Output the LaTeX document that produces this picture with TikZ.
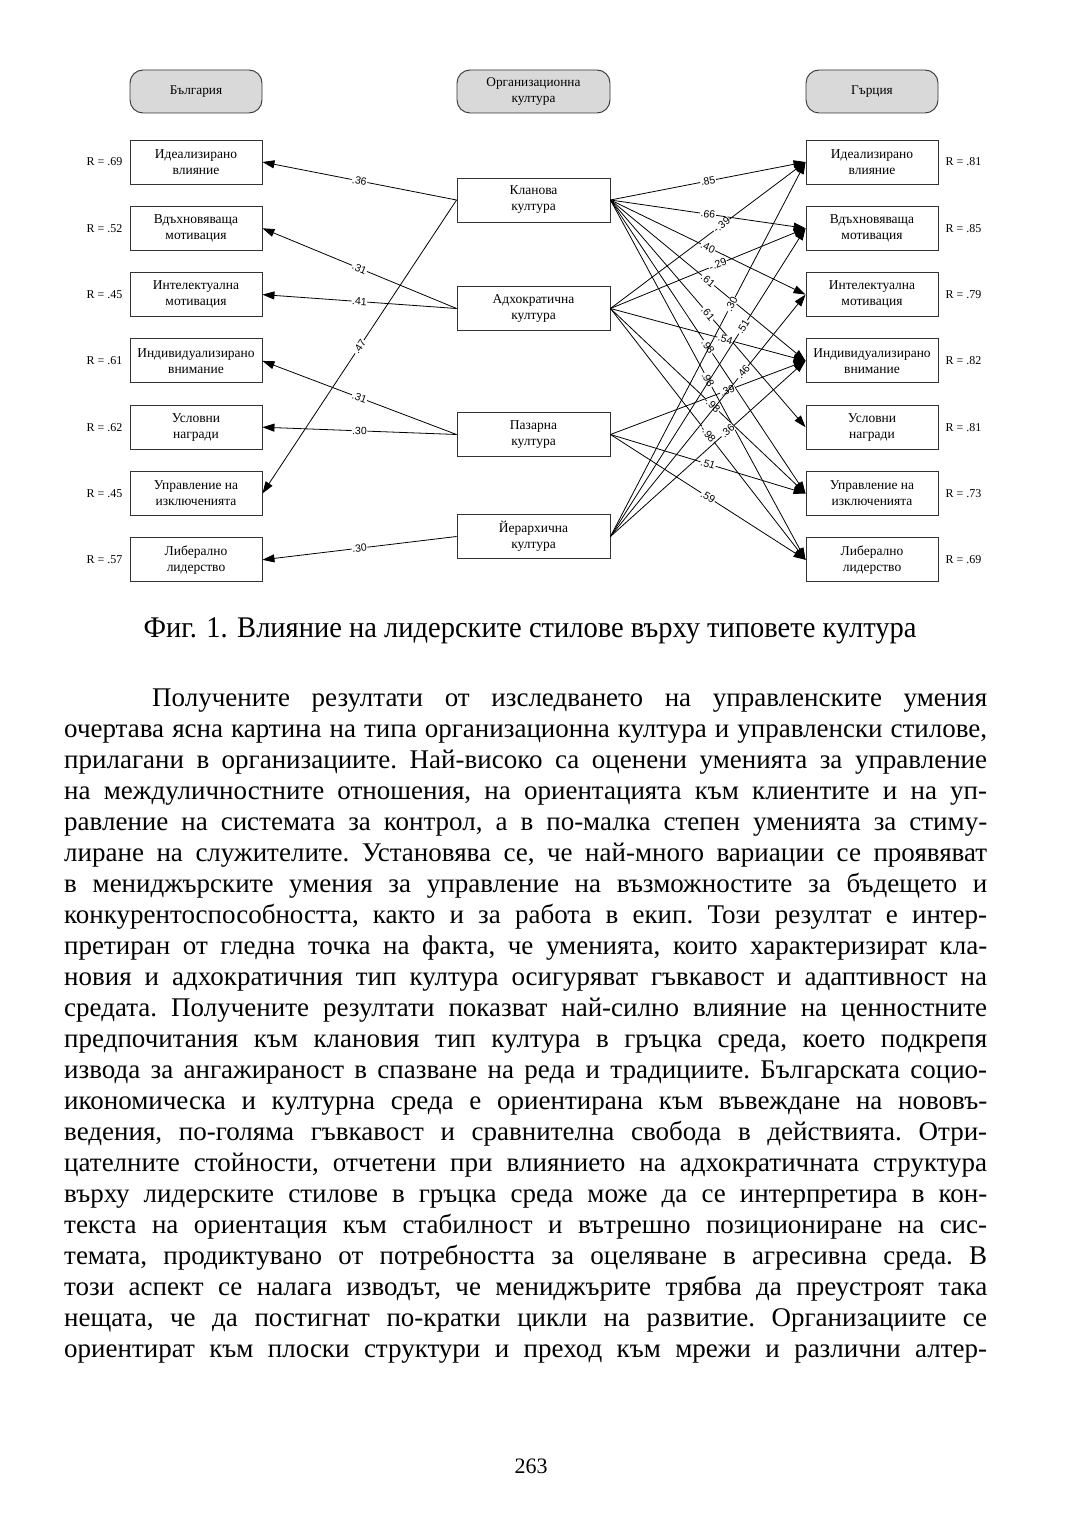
\documentclass[tikz,border=0pt]{standalone}
\usepackage{fontspec}
\setmainfont{Liberation Serif}
\newfontfamily\coeffont{Liberation Sans}
\usepackage{graphicx}
\usetikzlibrary{positioning, arrows.meta}

\newcommand{\bodyline}[1]{\hbox to 923pt{#1}}

\begin{document}
\begin{tikzpicture}[
    x=1pt, y=-1pt,
    node distance=21.4pt and 7pt,
    headbox/.style={draw=black!80, fill=black!15, rounded corners=13pt, line width=0.9pt, minimum height=43pt, align=center, inner sep=2pt, font=\fontsize{13.3}{15.5}\selectfont},
    stylebox/.style={draw=black!80, fill=white, line width=0.9pt, minimum width=132pt, minimum height=44pt, align=center, inner sep=1pt, font=\fontsize{13.5}{16}\selectfont},
    culturebox/.style={stylebox, minimum width=153pt},
    rlabel/.style={inner sep=0pt, font=\fontsize{12}{13}\selectfont},
    link/.style={-{Triangle[length=12pt,width=8pt]}, line width=0.8pt},
    coef/.style={fill=white, inner sep=0.6pt, sloped, font=\coeffont\fontsize{10.5}{12}\selectfont},
]
\fill[white] (0,0) rectangle (1080,1530);
\useasboundingbox (0,0) rectangle (1080,1530);

% Headers
\node[headbox, minimum width=132pt] (bg) at (196,91.5) {България};
\node[headbox, minimum width=153pt] (oc) at (533.5,91.5) {Организационна\\култура};
\node[headbox, minimum width=132pt] (gr) at (872,91.5) {Гърция};

% Leadership styles, Bulgaria
\node[stylebox] (l1) at (196,162) {Идеализирано\\влияние};
\node[stylebox, below=of l1] (l2) {Вдъхновяваща\\мотивация};
\node[stylebox, below=of l2] (l3) {Интелектуална\\мотивация};
\node[stylebox, below=of l3] (l4) {Индивидуализирано\\внимание};
\node[stylebox, below=of l4] (l5) {Условни\\награди};
\node[stylebox, below=of l5] (l6) {Управление на\\изключенията};
\node[stylebox, below=of l6] (l7) {Либерално\\лидерство};

% Leadership styles, Greece
\node[stylebox] (r1) at (872,162) {Идеализирано\\влияние};
\node[stylebox, below=of r1] (r2) {Вдъхновяваща\\мотивация};
\node[stylebox, below=of r2] (r3) {Интелектуална\\мотивация};
\node[stylebox, below=of r3] (r4) {Индивидуализирано\\внимание};
\node[stylebox, below=of r4] (r5) {Условни\\награди};
\node[stylebox, below=of r5] (r6) {Управление на\\изключенията};
\node[stylebox, below=of r6] (r7) {Либерално\\лидерство};

% Culture types
\node[culturebox] (c1) at (533.5,200) {Кланова\\култура};
\node[culturebox] (c2) at (533.5,308.5) {Адхократична\\култура};
\node[culturebox] (c3) at (533.5,434.5) {Пазарна\\култура};
\node[culturebox] (c4) at (533.5,536.5) {Йерархична\\култура};

% R values
\node[rlabel, left=of l1] {R = .69};
\node[rlabel, left=of l2] {R = .52};
\node[rlabel, left=of l3] {R = .45};
\node[rlabel, left=of l4] {R = .61};
\node[rlabel, left=of l5] {R = .62};
\node[rlabel, left=of l6] {R = .45};
\node[rlabel, left=of l7] {R = .57};
\node[rlabel, right=of r1] {R = .81};
\node[rlabel, right=of r2] {R = .85};
\node[rlabel, right=of r3] {R = .79};
\node[rlabel, right=of r4] {R = .82};
\node[rlabel, right=of r5] {R = .81};
\node[rlabel, right=of r6] {R = .73};
\node[rlabel, right=of r7] {R = .69};

% Cultures to Bulgaria
\draw[link] (c1.west) -- node[coef] {.36} (l1.east);
\draw[link] (c2.west) -- node[coef] {.31} (l2.east);
\draw[link] (c2.west) -- node[coef] {.41} (l3.east);
\draw[link] (c3.west) -- node[coef] {.31} (l4.east);
\draw[link] (c3.west) -- node[coef] {.30} (l5.east);
\draw[link] (c1.west) -- node[coef] {.47} (l6.east);
\draw[link] (c4.west) -- node[coef] {.30} (l7.east);

% Cultures to Greece
\draw[link] (c1.east) -- node[coef] {.85} (r1.west);
\draw[link] (c1.east) -- node[coef] {.66} (r2.west);
\draw[link] (c1.east) -- node[coef] {.40} (r3.west);
\draw[link] (c1.east) -- node[coef] {.61} (r4.west);
\draw[link] (c1.east) -- node[coef] {.61} (r5.west);
\draw[link] (c1.east) -- node[coef] {.98} (r6.west);
\draw[link] (c1.east) -- node[coef] {.98} (r7.west);
\draw[link] (c2.east) -- node[coef, pos=0.57] {-.39} (r1.west);
\draw[link] (c2.east) -- node[coef, pos=0.55] {-.29} (r2.west);
\draw[link] (c2.east) -- node[coef, pos=0.58] {-.54} (r4.west);
\draw[link] (c2.east) -- node[coef, pos=0.52] {-.98} (r6.west);
\draw[link] (c2.east) -- node[coef] {-.98} (r7.west);
\draw[link] (c3.east) -- node[coef, pos=0.6] {.39} (r4.west);
\draw[link] (c3.east) -- node[coef] {.51} (r6.west);
\draw[link] (c3.east) -- node[coef] {.59} (r7.west);
\draw[link] (c4.east) -- node[coef, pos=0.62] {.30} (r1.west);
\draw[link] (c4.east) -- node[coef, pos=0.68] {.51} (r2.west);
\draw[link] (c4.east) -- node[coef, pos=0.68] {.46} (r3.west);
\draw[link] (c4.east) -- node[coef, pos=0.6] {.36} (r4.west);

% Caption
\node[font=\fontsize{30}{32}\selectfont] (caption) at (530,631) {\scalebox{0.95}[1]{Фиг. 1. Влияние на лидерските стилове върху типовете култура}};

% Body text
\node[anchor=base west, inner sep=0pt] (body) at (64,706) {\parbox[t]{923pt}{\fontsize{27}{31}\selectfont\frenchspacing
\bodyline{\hskip 88pt Получените резултати от изследването на управленските умения}
\bodyline{очертава ясна картина на типа организационна култура и управленски стилове,}
\bodyline{прилагани в организациите. Най-високо са оценени уменията за управление}
\bodyline{на междуличностните отношения, на ориентацията към клиентите и на уп-}
\bodyline{равление на системата за контрол, а в по-малка степен уменията за стиму-}
\bodyline{лиране на служителите. Установява се, че най-много вариации се проявяват}
\bodyline{в мениджърските умения за управление на възможностите за бъдещето и}
\bodyline{конкурентоспособността, както и за работа в екип. Този резултат е интер-}
\bodyline{претиран от гледна точка на факта, че уменията, които характеризират кла-}
\bodyline{новия и адхократичния тип култура осигуряват гъвкавост и адаптивност на}
\bodyline{средата. Получените резултати показват най-силно влияние на ценностните}
\bodyline{предпочитания към клановия тип култура в гръцка среда, което подкрепя}
\bodyline{извода за ангажираност в спазване на реда и традициите. Българската социо-}
\bodyline{икономическа и културна среда е ориентирана към въвеждане на нововъ-}
\bodyline{ведения, по-голяма гъвкавост и сравнителна свобода в действията. Отри-}
\bodyline{цателните стойности, отчетени при влиянието на адхократичната структура}
\bodyline{върху лидерските стилове в гръцка среда може да се интерпретира в кон-}
\bodyline{текста на ориентация към стабилност и вътрешно позициониране на сис-}
\bodyline{темата, продиктувано от потребността за оцеляване в агресивна среда. В}
\bodyline{този аспект се налага изводът, че мениджърите трябва да преустроят така}
\bodyline{нещата, че да постигнат по-кратки цикли на развитие. Организациите се}
\bodyline{ориентират към плоски структури и преход към мрежи и различни алтер-}}};

% Page number
\node[font=\fontsize{22}{24}\selectfont] (pagenum) at (531,1466) {263};

\end{tikzpicture}
\end{document}
